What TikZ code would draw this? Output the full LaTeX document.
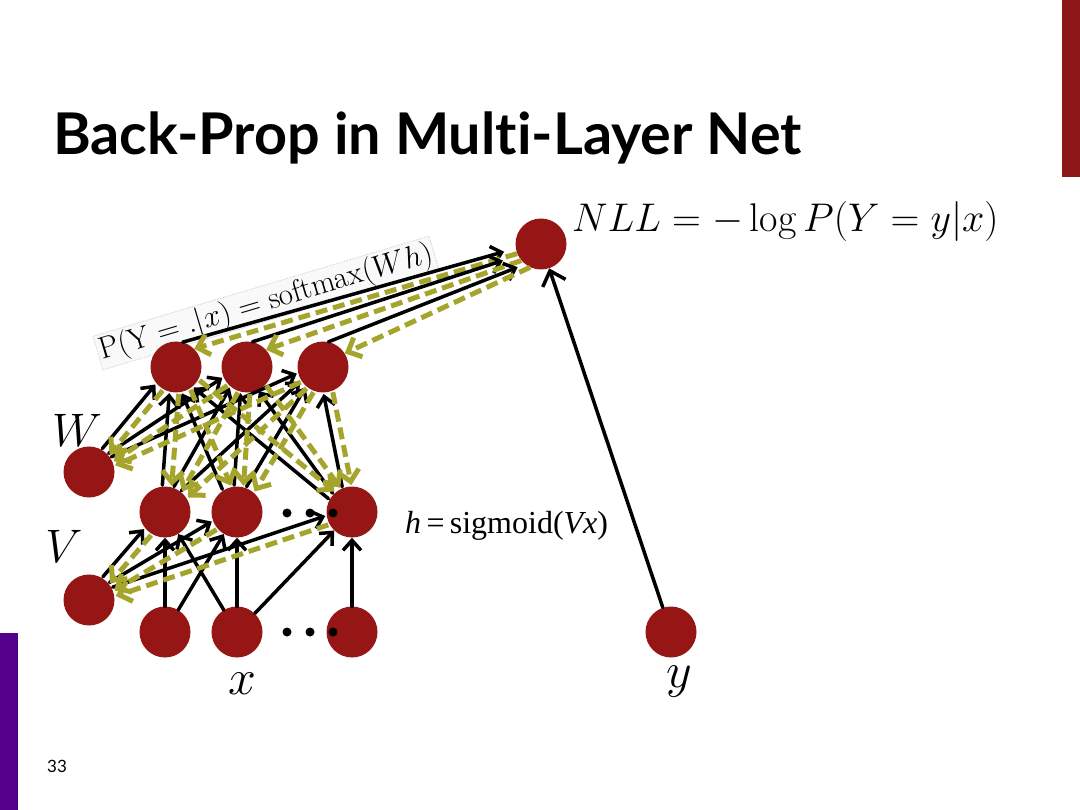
\RequirePackage{fix-cm}
\documentclass[tikz,border=0pt]{standalone}
\usepackage{fontspec}
\usetikzlibrary{calc,arrows.meta}
\newfontfamily\titlefont[Ligatures=NoCommon]{Lato}
\newfontfamily\serifTimes{Liberation Serif}
\definecolor{unitColor}{RGB}{150,22,22}
\definecolor{gradColor}{RGB}{165,165,45}
\definecolor{barRedColor}{RGB}{140,24,24}
\definecolor{barPurpleColor}{RGB}{85,0,140}

\begin{document}
\begin{tikzpicture}[
        x=1pt, y=-1pt,
        unit/.style={
                circle,
                fill=unitColor,
                minimum size=51pt,
                inner sep=0pt
            },
        fwd/.style={draw=black, line width=3.5pt, line cap=round,
                -{Straight Barb[length=10pt,width=18pt]}},
        back/.style={draw=gradColor, line width=5pt, dash pattern=on 12pt off 6pt,
                -{Straight Barb[length=11pt,width=21pt]}},
        bigmath/.style={font=\fontsize{47}{52}\selectfont, inner sep=0pt}
    ]

    \useasboundingbox (0,0) rectangle (1080,810);
    \fill[white] (0,0) rectangle (1080,810);

    % ---- Slide frame ----
    \fill[barRedColor] (1062,0) rectangle (1080,177);
    \fill[barPurpleColor] (0,633) rectangle (18,810);
    \node[font=\titlefont\bfseries\fontsize{57.5}{62}\selectfont, anchor=base west, inner sep=0pt]
    (title) at (53,155) {Back-Prop in Multi-Layer Net};
    \node[font=\titlefont\fontsize{17}{20}\selectfont, anchor=base west, inner sep=0pt]
    (pagenum) at (47,772) {33};

    % ---- Softmax label ----
    \node[rotate=16.6, fill=gray!5, draw=gray!55, densely dotted, line width=0.6pt, inner sep=2pt,
        font=\fontsize{31}{34}\selectfont]
    (plabel) at (266,303) {$\mathrm{P}(\mathrm{Y} = .|x) = \mathrm{softmax}(Wh)$};

    % ---- Units ----
    \node[unit] (out) at (541,244) {};
    \foreach \i/\x in {1/176,2/247,3/323} \node[unit] (s\i) at (\x,367) {};
    \node[unit] (W) at (89,472) {};
    \foreach \i/\x in {1/165,2/237,3/352} {
            \node[unit] (h\i) at (\x,512) {};
            \node[unit] (x\i) at (\x,632) {};
        }
    \node[unit] (V) at (89,600) {};
    \node[unit] (y) at (671,632) {};

    % dots for the omitted units
    \foreach \y in {513,632} \foreach \x in {287,310,333} \fill (\x,\y) circle (4.5);

    % ---- Output layer: forward and backward ----
    \draw[fwd, shorten >=12pt] (s1.75) -- (out.190);
    \draw[back] (out.202) -- (s1.45);
    \draw[fwd, shorten >=16pt] (s2.78) -- (out.207);
    \draw[back] (out.220) -- (s2.42);
    \draw[fwd, shorten >=8pt] (s3.78) -- (out.232);
    \draw[back] (out.245) -- (s3.32);
    \draw[fwd, -{Straight Barb[length=13pt,width=24pt]}] (y) -- (out);

    % ---- Hidden layers: forward (black) and backward (olive) ----
    \def\rr{27pt}
    \def\ang{10}
    \foreach \a/\b in {W/s1,W/s2,W/s3,
            h1/s1,h1/s2,h1/s3,h2/s1,h2/s2,h2/s3,h3/s1,h3/s2,h3/s3,V/h1,V/h2,V/h3}
    \draw[fwd] ($(\a)!\rr!\ang:(\b)$) -- ($(\b)!\rr!-\ang:(\a)$);
    \foreach \a/\b in {x1/h1,x1/h2,x2/h1,x2/h2,x2/h3,x3/h3} \draw[fwd] (\a) -- (\b);

    \foreach \a/\b in {W/s1,W/s2,W/s3,
            h1/s1,h1/s2,h1/s3,h2/s1,h2/s2,h2/s3,h3/s1,h3/s2,h3/s3,V/h1,V/h2,V/h3}
    \draw[back] ($(\b)!\rr!\ang:(\a)$) -- ($(\a)!\rr!-\ang:(\b)$);

    % ---- Labels ----
    \node[bigmath] (Wlabel) at (77,430) {$W$};
    \node[bigmath] (Vlabel) at (64,546) {$V$};
    \node[font=\fontsize{50}{54}\selectfont, inner sep=0pt] (xlabel) at (242,684) {$x$};
    \node[font=\fontsize{50}{54}\selectfont, inner sep=0pt] (ylabel) at (679,682) {$y$};
    \node[font=\fontsize{40}{44}\selectfont, anchor=base west, inner sep=0pt]
    (nll) at (572,232) {$NLL = -\log P(Y = y|x)$};
    \node[font=\serifTimes\fontsize{32}{36}\selectfont, anchor=base west, inner sep=0pt]
    (hlabel) at (405,533) {\textit{h}\,=\,sigmoid(\textit{Vx})};
\end{tikzpicture}
\end{document}
